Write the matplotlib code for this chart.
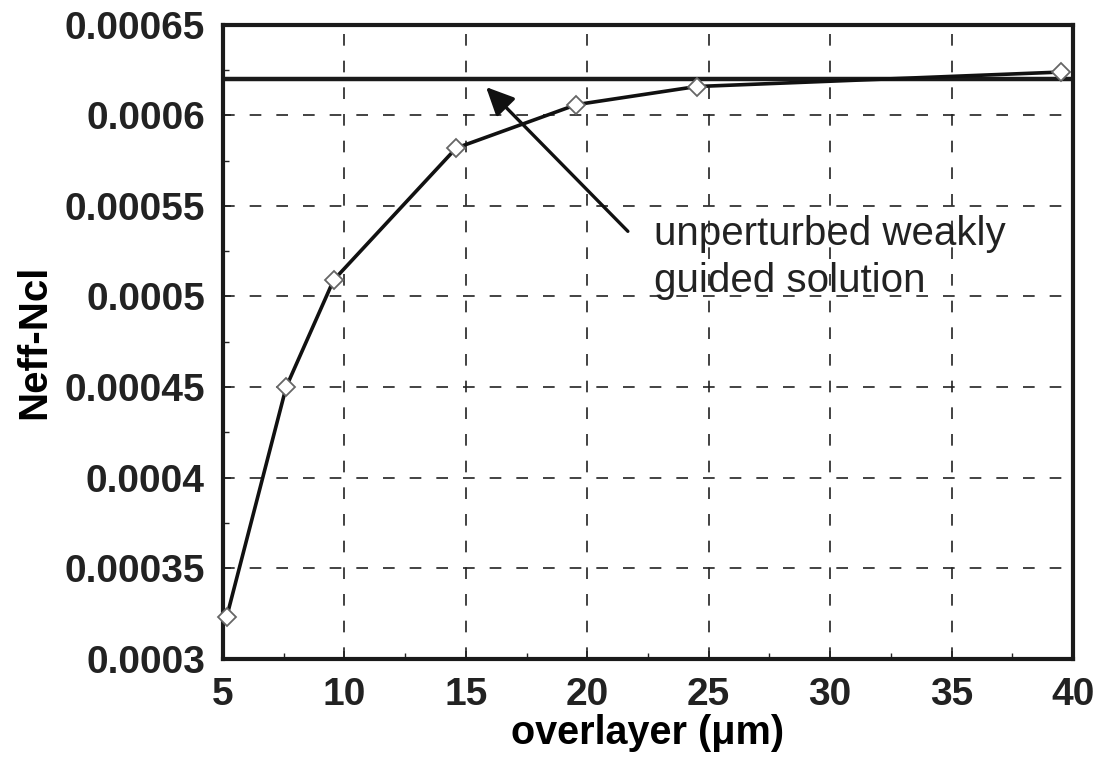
import matplotlib.pyplot as plt
from matplotlib.ticker import MultipleLocator

plt.rcParams['font.family'] = ['Liberation Sans', 'DejaVu Sans']

# overlayer thickness (um) and Neff - Ncl
overlayer = [5.15, 7.6, 9.55, 14.6, 19.55, 24.5, 39.5]
neff_ncl = [0.000323, 0.00045, 0.000509, 0.000582, 0.000606, 0.000616, 0.000624]
weakly_guided = 0.00062

yticks = [0.0003, 0.00035, 0.0004, 0.00045, 0.0005, 0.00055, 0.0006, 0.00065]
ytick_labels = ['0.0003', '0.00035', '0.0004', '0.00045', '0.0005', '0.00055', '0.0006', '0.00065']
xticks = [5, 10, 15, 20, 25, 30, 35, 40]

fig = plt.figure(figsize=(11.02, 7.71), dpi=100)
ax = fig.add_axes([0.2024, 0.1459, 0.7713, 0.8217])

ax.axhline(weakly_guided, color='#1a1a1a', lw=3.2, zorder=3)
ax.plot(overlayer, neff_ncl, color='#111111', lw=2.6, marker='D', ms=9,
        mfc='white', mec='#666666', mew=1.3, zorder=4, clip_on=False)

ax.annotate('', xy=(15.83, 0.0006157), xytext=(21.67, 0.000536),
            arrowprops=dict(arrowstyle='-|>,head_length=1.7,head_width=0.8',
                            color='#111111', lw=2.4, shrinkA=0, shrinkB=0),
            zorder=5)
ax.text(22.75, 0.000545, 'unperturbed weakly\nguided solution', fontsize=29,
        color='#222222', va='top', ha='left', linespacing=1.3)

ax.set_xlim(5, 40)
ax.set_ylim(0.0003, 0.00065)
ax.set_xticks(xticks)
ax.set_yticks(yticks)
ax.set_yticklabels(ytick_labels)
ax.xaxis.set_minor_locator(MultipleLocator(2.5))
ax.yaxis.set_minor_locator(MultipleLocator(0.000025))

ax.grid(True, which='major', color='#222222', lw=1.2, linestyle=(0, (7, 9)))
ax.tick_params(which='both', direction='in', colors='#222222')
ax.tick_params(which='major', length=6, width=1.2, labelsize=28, pad=13)
ax.tick_params(which='minor', length=4, width=1)
for lab in ax.get_xticklabels() + ax.get_yticklabels():
    lab.set_fontweight('bold')

for s in ax.spines.values():
    s.set_linewidth(3)
    s.set_color('#1a1a1a')

ax.set_xlabel('overlayer (\u03bcm)', fontsize=28.5, fontweight='bold', labelpad=1)
ax.set_ylabel('Neff-Ncl', fontsize=29, fontweight='bold', labelpad=8)

fig.savefig('out.png', dpi=100)
